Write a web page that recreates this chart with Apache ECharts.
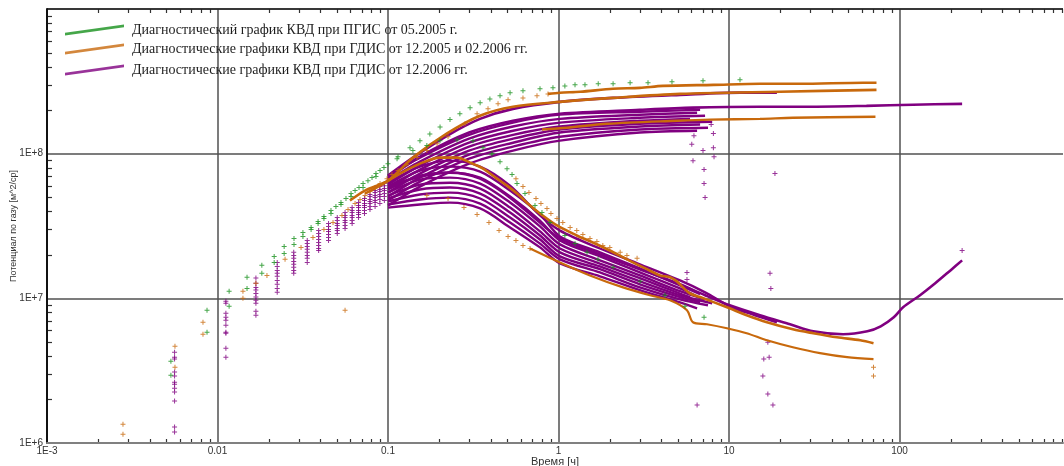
<!DOCTYPE html>
<html><head><meta charset="utf-8">
<script src="https://cdn.jsdelivr.net/npm/echarts@6/dist/echarts.min.js"></script>
<style>html,body{margin:0;padding:0;background:#fff}#c{width:1064px;height:466px}</style>
</head><body><div id="c"></div><script>
// ---- data: time [h], potential ----
const greenP = [[0.00533,3.68e6],[0.00868,8.26e6],[0.0117,1.12e7],[0.0149,1.40e7],[0.0182,1.69e7],[0.0215,1.95e7],[0.0246,2.28e7],[0.0281,2.59e7],[0.0317,2.85e7],[0.0354,3.09e7],[0.0389,3.40e7],[0.0421,3.68e7],[0.0463,4.05e7],[0.0495,4.31e7],[0.053,4.59e7],[0.0567,4.90e7],[0.0607,5.30e7],[0.0641,5.56e7],[0.0676,5.83e7],[0.0714,6.21e7],[0.0763,6.51e7],[0.0806,6.83e7],[0.085,7.28e7],[0.0898,7.64e7],[0.0947,8.01e7],[0.1,8.53e7],[0.1145,9.54e7],[0.1346,1.10e8],[0.154,1.23e8],[0.176,1.37e8],[0.202,1.53e8],[0.231,1.72e8],[0.264,1.89e8],[0.303,2.08e8],[0.347,2.25e8],[0.396,2.39e8],[0.454,2.51e8],[0.52,2.64e8],[0.619,2.72e8],[0.779,2.81e8],[0.928,2.85e8],[1.09,2.94e8],[1.25,2.99e8],[1.43,2.99e8],[1.71,3.04e8],[2.09,3.04e8],[2.63,3.09e8],[3.35,3.09e8],[4.63,3.14e8],[7.04,3.19e8],[11.6,3.24e8]];
const greenD = [[0.00533,2.94e6],[0.00868,5.83e6],[0.0117,8.81e6],[0.0149,1.17e7],[0.0182,1.49e7],[0.0215,1.77e7],[0.0246,2.04e7],[0.0281,2.36e7],[0.0317,2.68e7],[0.0354,2.99e7],[0.0389,3.29e7],[0.0421,3.56e7],[0.0463,3.86e7],[0.053,4.45e7],[0.0607,5.05e7],[0.0714,5.83e7],[0.085,6.94e7],[0.113,9.24e7],[0.140,1.05e8],[0.169,1.14e8],[0.2018,1.23e8],[0.254,1.25e8],[0.315,1.23e8],[0.361,1.10e8],[0.407,1.00e8],[0.454,8.81e7],[0.499,7.88e7],[0.534,7.17e7],[0.571,6.21e7],[0.636,5.30e7],[0.728,4.38e7],[0.80,3.92e7],[0.891,3.34e7],[1.09,2.72e7],[1.25,2.39e7],[1.47,2.08e7],[1.705,1.86e7],[2.09,1.64e7],[3.01,1.31e7],[4.21,1.05e7],[5.52,8.81e6],[7.14,7.40e6]];

const orangeAPoints = [[0.00279,1.35e6],[0.00563,4.67e6],[0.00822,6.83e6],[0.0141,1.12e7],[0.0168,1.27e7],[0.0195,1.44e7],[0.0249,1.86e7],[0.0309,2.25e7],[0.0363,2.63e7],[0.0421,2.99e7],[0.0476,3.34e7],[0.0537,3.74e7],[0.0583,4.11e7],[0.0641,4.52e7],[0.0685,4.82e7],[0.0733,5.13e7],[0.0784,5.47e7],[0.0839,5.83e7],[0.0898,6.21e7],[0.0987,6.72e7],[0.1055,7.17e7],[0.1145,7.64e7],[0.129,8.40e7],[0.148,9.39e7],[0.169,1.05e8],[0.194,1.17e8],[0.225,1.31e8],[0.283,1.61e8],[0.333,1.89e8],[0.386,2.04e8],[0.442,2.21e8],[0.506,2.36e8],[0.619,2.43e8],[0.748,2.51e8],[0.868,2.59e8]];
const orangeADPoints = [[0.00279,1.15e6],[0.00563,3.34e6],[0.00822,5.65e6],[0.0141,1.0e7],[0.563,6.72e7],[0.619,5.92e7],[0.671,5.38e7],[0.738,4.90e7],[0.789,4.52e7],[0.856,4.18e7],[0.903,3.86e7],[0.98,3.56e7],[1.06,3.34e7],[1.17,3.09e7],[1.28,2.94e7],[1.39,2.76e7],[1.53,2.59e7],[1.68,2.47e7],[1.82,2.32e7],[2.0,2.25e7],[2.3,2.08e7],[2.52,1.98e7],[2.89,1.89e7]];
const orangeCDPoints = [[0.169,5.13e7],[0.225,4.90e7],[0.279,4.24e7],[0.333,3.80e7],[0.391,3.34e7],[0.448,2.94e7],[0.506,2.68e7],[0.563,2.51e7],[0.619,2.32e7],[0.681,2.21e7]];
const orangeOutliers = [[0.056,8.27e6],[70.4,2.90e6],[70.4,3.34e6]];
const orangeAP = [[0.868,2.59e8],[1.02,2.64e8],[1.34,2.68e8],[2.09,2.81e8],[3.0,2.85e8],[4.1,2.94e8],[8.1,2.99e8],[15.2,3.04e8],[26.1,3.04e8],[61.3,3.09e8],[73.3,3.09e8]];
const orangeBP = [[0.0598,4.74e7],[0.0733,5.56e7],[0.1,6.51e7],[0.14,9.39e7],[0.222,1.38e8],[0.3465,1.83e8],[0.541,2.11e8],[1.02,2.28e8],[2.09,2.43e8],[5.16,2.59e8],[19.9,2.68e8],[73.3,2.76e8]];
const orangeBD = [[0.0733,5.30e7],[0.0898,6.01e7],[0.1176,7.28e7],[0.154,8.53e7],[0.2018,9.39e7],[0.254,9.39e7],[0.303,8.67e7],[0.361,7.88e7],[0.436,6.72e7],[0.499,6.01e7],[0.571,5.30e7],[0.681,4.38e7],[0.779,3.86e7],[0.98,3.19e7],[1.28,2.72e7],[1.59,2.43e7],[2.0,2.14e7],[2.52,1.86e7],[3.3,1.59e7],[3.94,1.44e7],[4.51,1.40e7],[4.95,1.31e7],[5.37,1.19e7],[5.91,1.08e7],[6.77,1.02e7],[9.73,8.67e6],[12.7,7.64e6],[16.7,6.83e6],[23.7,6.11e6],[31.2,5.74e6],[43.0,5.38e6],[58.9,5.13e6],[70.4,4.90e6]];
const orangeCP = [[0.8,1.47e8],[1.12,1.51e8],[1.93,1.61e8],[4.95,1.69e8],[7.75,1.72e8],[15.2,1.74e8],[23.7,1.77e8],[72.3,1.80e8]];
const orangeCD = [[0.681,2.21e7],[1.02,1.77e7],[1.53,1.44e7],[2.39,1.19e7],[3.44,1.05e7],[4.51,9.69e6],[5.67,8.27e6],[6.15,6.83e6],[7.43,6.62e6],[9.73,6.21e6],[12.7,5.74e6],[16.7,5.13e6],[23.7,4.59e6],[34.2,4.18e6],[49.3,3.92e6],[70.4,3.80e6]];

const purpleColT = [0.0056,0.0112,0.0168,0.0224,0.028,0.0336,0.0392,0.0448,0.0504,0.056,0.0616,0.0672,0.0728,0.0784,0.084,0.0896,0.0952];
const purpleColV = [
 [4.24e6,3.92e6,3.80e6,3.09e6,2.90e6,2.63e6,2.55e6,2.39e6,2.25e6,1.95e6,1.29e6,1.19e6],
 [9.54e6,9.24e6,7.88e6,7.40e6,7.05e6,6.51e6,5.83e6,5.74e6,4.52e6,3.92e6],
 [1.38e7,1.27e7,1.19e7,1.14e7,1.08e7,1.02e7,9.69e6,9.24e6,8.14e6,7.64e6],
 [1.77e7,1.66e7,1.56e7,1.49e7,1.42e7,1.33e7,1.25e7,1.17e7,1.10e7],
 [2.08e7,1.98e7,1.89e7,1.80e7,1.72e7,1.64e7,1.56e7,1.49e7],
 [2.51e7,2.39e7,2.28e7,2.18e7,2.08e7,1.98e7,1.89e7,1.77e7],
 [2.94e7,2.81e7,2.68e7,2.55e7,2.43e7,2.32e7,2.21e7,2.14e7],
 [3.29e7,3.14e7,2.99e7,2.90e7,2.76e7,2.63e7,2.51e7],
 [3.62e7,3.45e7,3.29e7,3.19e7,3.04e7,2.94e7,2.81e7],
 [3.92e7,3.74e7,3.62e7,3.45e7,3.34e7,3.19e7,3.04e7],
 [4.24e7,4.05e7,3.92e7,3.74e7,3.62e7,3.45e7,3.29e7],
 [4.59e7,4.38e7,4.24e7,4.05e7,3.92e7,3.80e7,3.62e7],
 [4.90e7,4.74e7,4.52e7,4.38e7,4.24e7,4.05e7,3.86e7],
 [5.22e7,5.05e7,4.82e7,4.67e7,4.52e7,4.31e7,4.11e7],
 [5.56e7,5.38e7,5.13e7,4.97e7,4.74e7,4.59e7,4.31e7],
 [5.92e7,5.65e7,5.47e7,5.22e7,5.05e7,4.82e7,4.52e7],
 [6.21e7,6.01e7,5.74e7,5.56e7,5.30e7,5.05e7,4.74e7]];
const purpleP1 = [[0.1,6.72e7],[0.154,9.54e7],[0.299,1.40e8],[0.541,1.69e8],[1.02,1.89e8],[3.0,2.01e8],[6.15,2.08e8],[15.2,2.11e8],[29.1,2.11e8],[64.0,2.14e8],[120,2.18e8],[233,2.21e8]];
const purpleP2 = [[0.1,7.05e7],[0.14,9.39e7],[0.222,1.33e8],[0.3465,1.74e8],[0.541,2.04e8],[1.02,2.28e8],[2.09,2.43e8],[5.16,2.55e8],[11.6,2.64e8],[19.1,2.64e8]];
const purpleD1 = [[0.1,5.92e7],[0.154,6.94e7],[0.231,7.40e7],[0.3465,6.72e7],[0.5195,4.97e7],[0.779,3.34e7],[1.02,2.59e7],[1.75,2.01e7],[3.0,1.59e7],[5.16,1.25e7],[7.24,1.05e7],[10.1,8.95e6],[15.2,7.64e6],[22.8,6.62e6],[31.2,5.92e6],[46.7,5.65e6],[64.8,5.92e6],[77.6,6.41e6],[92.6,7.40e6],[105,8.67e6],[132,1.05e7],[162,1.27e7],[199,1.56e7],[233,1.83e7]];
const purpleD2 = [[0.1,6.30e7],[0.154,8.14e7],[0.231,8.95e7],[0.3465,8.14e7],[0.5195,6.01e7],[0.779,3.74e7],[1.02,2.94e7],[1.75,2.21e7],[3.0,1.72e7],[5.16,1.33e7],[7.24,1.10e7],[10.1,8.81e6],[14.2,7.64e6],[19.1,6.83e6]];
const pBundleT = [0.1,0.154,0.299,0.541,1.02,3.0];
const pBundle = [
 [6.94e7,9.39e7,1.35e8,1.64e8,1.86e8,1.95e8,2.01e8],
 [6.51e7,8.81e7,1.27e8,1.54e8,1.74e8,1.86e8,1.92e8],
 [6.11e7,8.27e7,1.19e8,1.44e8,1.64e8,1.77e8,1.83e8],
 [5.74e7,7.76e7,1.12e8,1.35e8,1.54e8,1.69e8,1.74e8],
 [5.38e7,7.28e7,1.05e8,1.27e8,1.47e8,1.61e8,1.66e8],
 [5.05e7,6.83e7,9.84e7,1.19e8,1.40e8,1.54e8,1.59e8],
 [4.74e7,6.41e7,9.24e7,1.12e8,1.31e8,1.47e8,1.51e8],
 [4.38e7,5.92e7,8.53e7,1.05e8,1.23e8,1.40e8,1.44e8]];
const dBundleT = [0.1,0.154,0.231,0.347,0.52,0.779,1.02,1.75,3.0,5.16];
const dBundle = [
 [5.92e7,7.64e7,8.14e7,7.52e7,5.56e7,3.80e7,2.68e7,2.08e7,1.61e7,1.23e7,1.07e7],
 [5.65e7,7.05e7,7.40e7,6.83e7,5.05e7,3.45e7,2.51e7,1.95e7,1.51e7,1.17e7,1.03e7],
 [5.38e7,6.62e7,6.83e7,6.21e7,4.59e7,3.14e7,2.36e7,1.83e7,1.44e7,1.12e7,9.84e6],
 [5.13e7,6.11e7,6.30e7,5.74e7,4.24e7,2.90e7,2.21e7,1.74e7,1.38e7,1.08e7,1.02e7],
 [4.90e7,5.65e7,5.83e7,5.30e7,3.92e7,2.72e7,2.08e7,1.66e7,1.31e7,1.05e7,9.24e6],
 [4.67e7,5.22e7,5.38e7,4.90e7,3.62e7,2.55e7,1.95e7,1.59e7,1.25e7,1.02e7,9.39e6],
 [4.45e7,4.82e7,4.97e7,4.52e7,3.34e7,2.39e7,1.86e7,1.51e7,1.19e7,9.84e6,8.95e6],
 [4.24e7,4.45e7,4.59e7,4.18e7,3.09e7,2.25e7,1.74e7,1.42e7,1.14e7,9.39e6,8.53e6]];
const bundleEndT = [6.77,6.5,7.24,5.91,7.97,6.77,7.53,6.5];
const purpleOutliers = [[6.23,1.33e8],[6.05,1.16e8],[6.15,8.95e7],[7.04,1.05e8],[7.14,7.76e7],[7.14,6.21e7],[7.24,4.97e7],[8.1,1.38e8],[8.1,1.10e8],[8.17,9.54e7],[7.86,1.59e8],[18.6,7.28e7],[5.67,1.51e7],[5.67,1.35e7],[17.4,1.49e7],[17.6,1.17e7],[16.9,4.97e6],[17.2,3.92e6],[16.0,3.80e6],[15.8,2.90e6],[6.5,1.83e6],[16.9,2.18e6],[18.1,1.83e6],[233,2.14e7]];

const xTickDecades = [-3,-2,-1,0,1,2];
const yTickDecades = [6,7,8];

// ---- chart ----
const chart = echarts.init(document.getElementById('c'));
const G='#17901b', O='#c8690c', P='#800080';
const plus = 'path://M2,0H3V5H2Z M0,2H5V3H0Z';
const NG='Диагностический график КВД при ПГИС от 05.2005 г.';
const NO='Диагностические графики КВД при ГДИС от 12.2005 и 02.2006 гг.';
const NP='Диагностические графики КВД при ГДИС от 12.2006 гг.';
function sc(name,color,data,size,z){return {name,type:'scatter',data,symbol:plus,symbolSize:size||5,itemStyle:{color},silent:true,z:z||2};}
function ln(name,color,data,w,z){return {name,type:'line',data,showSymbol:false,smooth:0.3,lineStyle:{color,width:w},itemStyle:{color},silent:true,z:z||2};}

const purpleEarly=[];
purpleColT.forEach((t,i)=>purpleColV[i].forEach(v=>purpleEarly.push([t,v])));
const series=[];
series.push(sc(NP,P,purpleEarly,5,2));
series.push(sc(NP,P,purpleOutliers,5,2));
pBundle.forEach((vals,i)=>{const d=pBundleT.map((t,j)=>[t,vals[j]]);d.push([bundleEndT[i],vals[vals.length-1]]);series.push(ln(NP,P,d,2.4,2));});
dBundle.forEach((vals,i)=>{const d=dBundleT.map((t,j)=>[t,vals[j]]);d.push([bundleEndT[i],vals[vals.length-1]]);series.push(ln(NP,P,d,2.4,2));});
series.push(ln(NP,P,purpleP1,2.6,2));
series.push(ln(NP,P,purpleP2,2.6,2));
series.push(ln(NP,P,purpleD1,2.6,2));
series.push(ln(NP,P,purpleD2,2.4,2));
series.push(sc(NO,O,orangeAPoints,5,3));
series.push(sc(NO,O,orangeADPoints,5,3));
series.push(sc(NO,O,orangeCDPoints,5,3));
series.push(sc(NO,O,orangeOutliers,5,3));
series.push(ln(NO,O,orangeAP,2.6,3));
series.push(ln(NO,O,orangeBP,2.6,3));
series.push(ln(NO,O,orangeBD,2.6,3));
series.push(ln(NO,O,orangeCP,2.4,3));
series.push(ln(NO,O,orangeCD,2.2,3));
series.push(sc(NG,G,greenP,5,4));
series.push(sc(NG,G,greenD,5,4));

const lgIcon='path://M0,8L58,0L58,2.6L0,10.6Z';
function lg(name,top){return {data:[{name,icon:lgIcon}],left:65,top,padding:0,itemWidth:59,itemHeight:11,itemGap:0,selectedMode:false,textStyle:{fontFamily:'Liberation Serif',fontSize:14,color:'#1e1e1e',padding:[0,0,0,3]}};}
const labelFont={fontFamily:'Liberation Sans',fontSize:10,color:'#333'};
chart.setOption({
  animation:false,
  backgroundColor:'#fff',
  grid:{left:47,right:1,top:9,bottom:23,containLabel:false,outerBoundsMode:'none'},
  legend:[lg(NG,23),lg(NO,42),lg(NP,63)],
  xAxis:{type:'log',logBase:10,min:0.001,max:910,splitNumber:6,
    name:'Время [ч]',nameLocation:'middle',nameGap:13,nameMoveOverlap:false,nameTextStyle:{fontFamily:'Liberation Sans',fontSize:11,color:'#333'},
    axisLine:{show:true,onZero:false,lineStyle:{color:'#808080',width:2}},
    axisTick:{show:false},
    splitLine:{show:true,showMaxLine:false,lineStyle:{color:'#505050',width:1.5}},
    axisLabel:Object.assign({margin:3,showMaxLabel:false,formatter:v=>{const l=Math.log10(v),e=Math.round(l);if(Math.abs(l-e)>1e-6)return '';if(e<=-3)return '1E'+e;return String(Math.pow(10,e)>=1?Math.pow(10,e):Number(Math.pow(10,e).toFixed(-e)));}},labelFont)},
  yAxis:{type:'log',logBase:10,min:1e6,max:1e9,
    name:'Потенциал по газу [м^2/ср]',nameLocation:'middle',nameGap:29,nameMoveOverlap:false,nameTextStyle:{fontFamily:'Liberation Sans',fontSize:9,color:'#333'},
    axisLine:{show:true,onZero:false,lineStyle:{color:'#111',width:2}},
    axisTick:{show:false},
    splitLine:{show:true,lineStyle:{color:'#505050',width:1.5}},
    axisLabel:Object.assign({margin:4,formatter:v=>{const e=Math.round(Math.log10(v));if(e>=9)return '';return '1E+'+e;}},labelFont)},
  series
});

// minor ticks through the axis scales
const gx=v=>chart.convertToPixel({xAxisIndex:0},v);
const gy=v=>chart.convertToPixel({yAxisIndex:0},v);
const xL=gx(0.001), xR=gx(910), yB=gy(1e6), yT=gy(1e9);
const els=[];
const tk={stroke:'#333',lineWidth:1.2};
xTickDecades.forEach(d=>{for(let k=2;k<=9;k++){const v=k*Math.pow(10,d);if(v>=910)continue;const x=Math.round(gx(v))+0.5;
  els.push({type:'line',silent:true,shape:{x1:x,y1:yB,x2:x,y2:yB-4},style:tk});
  els.push({type:'line',silent:true,shape:{x1:x,y1:yT,x2:x,y2:yT+4},style:tk});}});
yTickDecades.forEach(d=>{for(let k=2;k<=9;k++){const v=k*Math.pow(10,d);const y=Math.round(gy(v))+0.5;
  els.push({type:'line',silent:true,shape:{x1:xL,y1:y,x2:xL+5,y2:y},style:tk});}});
els.push({type:'line',silent:true,shape:{x1:xL,y1:yT,x2:xR,y2:yT},style:{stroke:'#222',lineWidth:1.5}});
chart.setOption({graphic:els});
</script></body></html>
